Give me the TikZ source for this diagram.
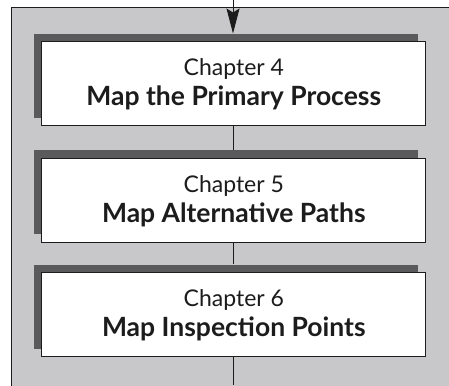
\documentclass[tikz,border=0pt]{standalone}
\usepackage{fontspec}
\setmainfont{Lato}
\usetikzlibrary{arrows.meta}
\definecolor{panel}{RGB}{200,200,202}
\definecolor{shade}{RGB}{90,90,92}
\definecolor{ink}{RGB}{28,28,28}
\newcommand{\chaptitle}[2]{\rule{0pt}{18pt}#1\\[0pt]%
  {\fontsize{26.5}{30}\selectfont\bfseries #2}}
\begin{document}
\begin{tikzpicture}[x=1pt,y=-1pt,
  stepbox/.style={draw=ink,line width=1.1pt,fill=white,minimum width=384pt,
    minimum height=84pt,inner sep=0pt,align=center,text=ink,
    font=\fontsize{23}{30}\selectfont},
  shadowbox/.style={fill=shade,minimum width=384pt,minimum height=84pt,inner sep=0pt},
  link/.style={draw=ink,line width=0.9pt},
  arr/.style={link,-{Stealth[length=25pt,width=13pt,inset=4pt]}}]
\useasboundingbox (0,0) rectangle (449,385);
\begin{scope}
  \clip (0,0) rectangle (449,385);
  % grey background panel, running off the right and bottom edges
  \draw[fill=panel,draw=ink,line width=0.9pt] (11,7) rectangle (470,400);
\end{scope}

% drop shadows behind the chapter boxes
\node[shadowbox] (s1) at (225.8,75.7)  {};
\node[shadowbox] (s2) at (225.8,192.3) {};
\node[shadowbox] (s3) at (225.8,306.5) {};

% chapter boxes
\node[stepbox] (b1) at (233.8,83.7)  {\chaptitle{Chapter 4}{Map the Primary Process}};
\node[stepbox] (b2) at (233.8,200.3) {\chaptitle{Chapter 5}{Map Alternative Paths}};
\node[stepbox] (b3) at (233.8,314.5) {\chaptitle{Chapter 6}{Map Inspection Points}};

% flow in and out
\coordinate (in)  at (233,0);
\coordinate (out) at (233,385);
\draw[arr]  (in) -- (in |- s1.north);
\draw[link] (in |- b1.south) -- (in |- s2.north);
\draw[link] (in |- b2.south) -- (in |- s3.north);
\draw[link] (in |- b3.south) -- (out);
\end{tikzpicture}
\end{document}
